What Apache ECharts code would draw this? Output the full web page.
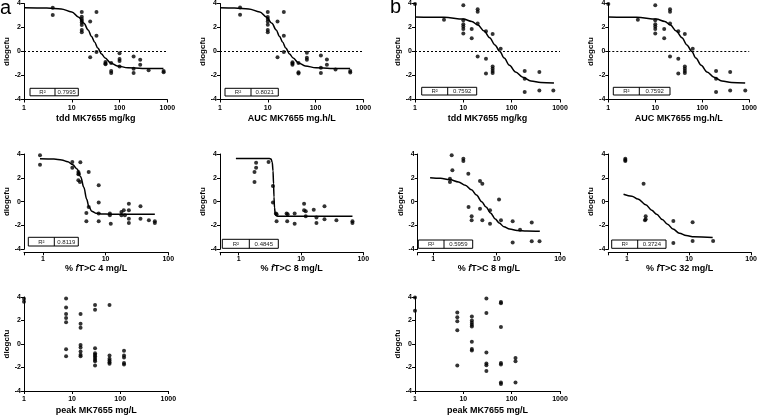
<!DOCTYPE html>
<html><head><meta charset="utf-8">
<script src="https://cdn.jsdelivr.net/npm/echarts@6/dist/echarts.min.js"></script>
<style>html,body{margin:0;padding:0;background:#fff}#c{width:760px;height:416px}</style>
</head><body><div id="c"></div>
<script>
// ---- tick labels / texts ----
const yTicks = [-4, -2, 0, 2, 4];
const xTicksDose = [1, 10, 100, 1000];
const xTicksPct = [1, 10, 100];
const yName = 'dlogcfu';
const xNames = [
  'tdd MK7655 mg/kg', 'AUC MK7655 mg.h/L', 'tdd MK7655 mg/kg', 'AUC MK7655 mg.h/L',
  '% {i|f}T>C 4 mg/L', '% {i|f}T>C 8 mg/L', '% {i|f}T>C 8 mg/L', '% {i|f}T>C 32 mg/L',
  'peak MK7655 mg/L', 'peak MK7655 mg/L'
];
const rSquared = ['0.7995', '0.8021', '0.7592', '0.7592', '0.8119', '0.4845', '0.5959', '0.3724'];
const panelLetters = ['a', 'b'];

// ---- data (x, dlogcfu) ----
const aTddPts = [[4,3.65],[4,3.05],[16.2,3.3],[16.2,2.9],[16.2,2.7],[16.2,2.56],[16.2,2.42],[16.2,2.2],[16.2,1.79],[16.2,1.6],
  [24.3,2.5],[24.3,-0.47],[32.9,3.3],[32.9,1.32],[32.9,-0.05],[50.8,-0.88],[50.8,-1.0],[50.8,-1.07],
  [66.9,-0.96],[66.9,-1.62],[66.9,-1.79],[100,-0.14],[100,-0.63],[100,-0.8],[100,-1.24],
  [197,-0.41],[197,-1.43],[197,-1.79],[271,-0.69],[271,-1.1],[406,-1.57],[838,-1.62],[838,-1.73]];
const aTddFit = [[1,3.65],[3,3.63],[6,3.55],[10,3.3],[14,2.85],[18,2.35],[22,1.8],[26,1.25],[30,0.8],[35,0.3],
  [42,-0.2],[50,-0.55],[65,-0.95],[90,-1.2],[150,-1.36],[300,-1.41],[830,-1.42]];

const aAucPts = [[2.63,3.67],[2.63,3.06],[10,3.3],[10,2.88],[10,2.7],[10,2.5],[10,2.22],[10,1.79],[10,1.6],
  [16,2.5],[16,-0.47],[21.7,3.3],[21.7,1.32],[21.7,-0.05],[32.9,-0.9],[32.9,-1.0],[32.9,-1.1],
  [44,-0.96],[44,-1.72],[44,-1.84],[65.9,-0.11],[65.9,-0.52],[65.9,-0.69],
  [129.5,-0.33],[129.5,-1.35],[129.5,-1.8],[173,-0.66],[173,-1.1],[262,-1.51],[533,-1.63],[533,-1.76]];
const aAucFit = [[1,3.65],[2,3.63],[4,3.55],[6.8,3.3],[9.5,2.85],[12.2,2.35],[15,1.8],[17.7,1.25],[20.4,0.8],[23.8,0.3],
  [28.6,-0.2],[34,-0.55],[44,-0.95],[61,-1.2],[102,-1.36],[204,-1.41],[530,-1.42]];

const bTddPts = [[1,3.95],[3.98,2.64],[10,3.85],[10,2.6],[10,2.28],[10,2.09],[10,1.87],[10,1.51],[14.9,1.87],[14.9,1.1],
  [19.8,3.52],[19.8,3.32],[19.8,2.33],[19.8,-0.41],[29.4,1.68],[29.4,-0.6],[29.4,-1.84],
  [40.4,1.46],[40.4,-1.24],[40.4,-1.43],[40.4,-1.62],[40.4,-1.79],[59.2,0.22],
  [186,-1.62],[186,-2.28],[186,-3.38],[374,-1.7],[374,-3.24],[728,-3.24]];
const bTddFit = [[1,2.88],[4,2.85],[10,2.7],[15,2.5],[20,2.2],[27,1.7],[35,1.15],[45,0.55],[57,0.0],[70,-0.55],
  [90,-1.15],[120,-1.7],[170,-2.15],[250,-2.45],[400,-2.58],[750,-2.63]];

const bAucPts = [[1,3.95],[4.26,2.64],[10,3.85],[10,2.6],[10,2.28],[10,2.09],[10,1.87],[10,1.51],[15.5,1.87],[15.5,1.1],
  [20.6,3.52],[20.6,3.32],[20.6,2.33],[20.6,-0.41],[30.9,1.68],[30.9,-0.6],[30.9,-1.84],
  [42.6,1.46],[42.6,-1.24],[42.6,-1.43],[42.6,-1.62],[42.6,-1.79],[62.7,0.22],
  [197,-1.62],[197,-2.28],[197,-3.38],[393,-1.7],[393,-3.24],[824,-3.24]];
const bAucFit = [[1,2.88],[4,2.85],[10.5,2.7],[16,2.5],[21,2.2],[28,1.7],[37,1.15],[47,0.55],[60,0.0],[73,-0.55],
  [95,-1.15],[126,-1.7],[178,-2.15],[262,-2.45],[420,-2.58],[820,-2.63]];

const aT4Pts = [[0.9,3.89],[0.9,3.1],[2.95,3.33],[2.95,2.85],[3.96,3.3],[3.68,2.49],[3.75,2.35],[3.68,2.29],
  [3.68,1.79],[3.9,1.65],[5.38,2.49],[5.38,-0.45],[4.94,-0.95],[4.94,-1.65],
  [7.77,1.37],[7.77,-0.08],[7.77,-1.0],[7.77,-1.65],[11.7,-1.0],[11.7,-1.15],[12.1,-1.85],
  [17.9,-0.87],[17.9,-1.15],[19.5,-0.73],[20.3,-1.15],[23.5,-0.17],[23.5,-0.73],[23.5,-1.43],[23.5,-1.79],
  [36,-0.39],[36,-1.43],[49,-1.57],[61,-1.65],[61,-1.79]];
const aT4Fit = [[0.9,3.6],[1.5,3.58],[2,3.5],[2.5,3.35],[3,3.1],[3.5,2.75],[4,2.1],[4.5,1.2],[5,0.2],[5.4,-0.4],
  [6,-0.8],[7,-0.97],[8.5,-1.03],[12,-1.05],[25,-1.05],[61,-1.05]];

const aT8Pts = [[1.79,1.65],[1.79,2.49],[1.9,2.85],[1.9,3.27],[3.01,3.33],[3.54,1.31],[3.54,-0.08],
  [3.95,-1.0],[4.05,-1.06],[4.05,-1.65],[5.87,-1.0],[6.1,-1.06],[6.0,-1.65],[7.9,-1.0],[7.9,-1.85],
  [11.2,-0.17],[11.2,-0.73],[11.9,-0.81],[11.9,-1.23],[16,-0.67],[17.7,-1.34],[17.7,-1.79],
  [23.8,-0.39],[23.8,-1.48],[37,-1.57],[67,-1.65],[67,-1.79]];
const aT8Fit = [[0.9,3.62],[3.1,3.62],[3.3,3.58],[3.45,3.3],[3.55,2.6],[3.62,1.5],[3.68,0.4],[3.75,-0.5],
  [3.85,-1.0],[4.0,-1.18],[4.3,-1.22],[67,-1.23]];

const bT8Pts = [[1.83,1.65],[1.83,1.93],[1.95,3.89],[2.0,2.63],[2.98,3.61],[2.98,3.41],[3.57,2.35],[3.6,-0.45],
  [4.03,-1.23],[4.03,-1.57],[5.46,1.73],[5.94,1.51],[5.46,-0.59],[5.94,-1.57],[7.86,-0.73],[7.86,-1.85],
  [10.9,0.17],[11.7,-1.57],[17.9,-1.65],[17.9,-3.42],[23.4,-2.35],[35.8,-1.74],[35.8,-3.33],[47.5,-3.33]];
const bT8Fit = [[0.89,2.01],[1.3,1.96],[1.8,1.86],[2.5,1.66],[3.2,1.38],[4.0,1.0],[4.8,0.55],[5.8,0.0],[6.8,-0.45],
  [8,-0.95],[9.5,-1.45],[11,-1.8],[13,-2.1],[16,-2.3],[21,-2.42],[30,-2.47],[48,-2.49]];

const bT32Pts = [[0.94,3.61],[0.94,3.41],[0.94,3.5],[1.85,1.51],[1.95,-1.57],[2.0,-1.48],[2.0,-1.23],
  [5.58,-1.62],[5.58,-3.47],[11.4,-1.73],[11.4,-3.3],[24.4,-3.3]];
const bT32Fit = [[0.88,0.62],[1.2,0.45],[1.5,0.22],[2,-0.25],[2.5,-0.72],[3,-1.05],[3.7,-1.5],[4.5,-1.9],
  [5.5,-2.3],[7,-2.65],[9,-2.85],[12,-2.95],[24,-3.0]];

const aPeakPts = [[1,3.85],[1,3.6],[7.5,3.88],[7.5,3.1],[7.5,2.55],[7.5,2.22],[7.5,1.86],[7.5,-0.44],[7.5,-1.05],
  [15,2.55],[15,1.72],[15,1.39],[15,-0.08],[15,-0.3],[15,-0.64],[15,-0.91],[15,-1.05],
  [30,3.32],[30,2.91],[30,-0.36],[30,-0.78],[30,-0.91],[30,-1.05],[30,-1.19],[30,-1.33],[30,-1.47],[30,-1.83],
  [60,3.32],[60,-0.97],[60,-1.25],[60,-1.41],[60,-1.55],[60,-1.69],
  [120,-0.58],[120,-0.97],[120,-1.14],[120,-1.61],[120,-1.75]];
const bPeakPts = [[1,3.95],[1,2.83],[7.5,2.69],[7.5,2.27],[7.5,1.94],[7.5,1.16],[7.5,-1.83],
  [15,2.35],[15,1.99],[15,1.8],[15,1.63],[15,1.5],[15,0.19],[15,-0.42],[15,-0.55],
  [30,3.88],[30,2.63],[30,-0.72],[30,-1.66],[30,-1.8],[30,-2.3],
  [60,3.57],[60,3.46],[60,1.44],[60,-1.61],[60,-1.75],[60,-3.27],[60,-3.41],
  [120,-1.19],[120,-1.47],[120,-3.27]];

// ---- layout ----
const FONT = '"Liberation Sans", Arial, sans-serif';
const panels = [
  {pts:aTddPts, fit:aTddFit, left:24,    top:2.5, w:143.3, h:97,   min:1,    max:1000, ticks:xTicksDose, off:0, lm:5, ng:15, zero:true,  box:[30,88.3,48.3,7.5,55]},
  {pts:aAucPts, fit:aAucFit, left:220,   top:2.5, w:143.3, h:97,   min:1,    max:1000, ticks:xTicksDose, off:0, lm:5, ng:15, zero:true,  box:[225,88.3,53.3,7.7,251]},
  {pts:bTddPts, fit:bTddFit, left:415,   top:2.5, w:145,   h:97,   min:1,    max:1000, ticks:xTicksDose, off:0, lm:5, ng:15, zero:true,  box:[421.7,87.3,55,7.7,447.7]},
  {pts:bAucPts, fit:bAucFit, left:608.3, top:2.5, w:143.4, h:97,   min:1,    max:1000, ticks:xTicksDose, off:0, lm:5, ng:15, zero:true,  box:[613.3,87.3,56.7,7.7,639.3]},
  {pts:aT4Pts,  fit:aT4Fit,  left:24,    top:154, w:144.3, h:95.3, min:0.5,  max:100,  ticks:xTicksPct,  off:3, lm:3, ng:12, zero:false, box:[28.3,237.3,50,8.7,54.3]},
  {pts:aT8Pts,  fit:aT8Fit,  left:220,   top:154, w:143.3, h:95.3, min:0.5,  max:100,  ticks:xTicksPct,  off:3, lm:3, ng:12, zero:false, box:[222.3,239.3,56,9,249.3]},
  {pts:bT8Pts,  fit:bT8Fit,  left:417.7, top:154, w:142.3, h:95.3, min:0.567,max:100,  ticks:xTicksPct,  off:3, lm:3, ng:12, zero:false, box:[418.3,240,54.4,8.3,444]},
  {pts:bT32Pts, fit:bT32Fit, left:608.3, top:154, w:143.4, h:95.3, min:0.5,  max:100,  ticks:xTicksPct,  off:3, lm:3, ng:12, zero:false, box:[611.7,240,54.3,8.3,637.7]},
  {pts:aPeakPts, fit:null,   left:24,    top:297, w:144.3, h:96.3, min:1,    max:1000, ticks:xTicksDose, off:0, lm:5, ng:15, zero:false, box:null},
  {pts:bPeakPts, fit:null,   left:415,   top:297, w:145,   h:96.3, min:1,    max:1000, ticks:xTicksDose, off:0, lm:5, ng:15, zero:false, box:null}
];

const grid = [], xAxis = [], yAxis = [], series = [], graphic = [];
panels.forEach((p, i) => {
  grid.push({left:p.left, top:p.top, width:p.w, height:p.h, containLabel:false});
  const tickList = p.ticks;
  xAxis.push({
    type:'log', logBase:10, gridIndex:i, min:p.min, max:p.max, offset:p.off,
    axisLine:{show:true, onZero:false, lineStyle:{color:'#000', width:1}},
    axisTick:{show:true, length:3, lineStyle:{color:'#000', width:1}},
    splitLine:{show:false}, minorTick:{show:false},
    axisLabel:{fontSize:7, fontWeight:'bold', margin:p.lm, color:'#000', fontFamily:FONT,
      formatter:(v) => { const r = Math.round(v); return (Math.abs(v - r) < 1e-6 && tickList.indexOf(r) >= 0) ? String(r) : ''; }},
    name:xNames[i], nameLocation:'middle', nameGap:p.ng,
    nameTextStyle:{fontSize:9, fontWeight:'bold', color:'#000', fontFamily:FONT,
      rich:{i:{fontStyle:'italic', fontWeight:'bold', fontSize:9, color:'#000', fontFamily:FONT}}}
  });
  yAxis.push({
    type:'value', gridIndex:i, min:-4, max:4, interval:2,
    axisLine:{show:true, onZero:false, lineStyle:{color:'#000', width:1}},
    axisTick:{show:true, length:3, lineStyle:{color:'#000', width:1}},
    splitLine:{show:false},
    axisLabel:{fontSize:7, fontWeight:'bold', margin:3, color:'#000', fontFamily:FONT,
      formatter:(v) => yTicks.indexOf(v) >= 0 ? String(v) : ''},
    name:yName, nameLocation:'middle', nameGap:13, nameRotate:90,
    nameTextStyle:{fontSize:8, fontWeight:'bold', color:'#000', fontFamily:FONT}
  });
  const sc = {type:'scatter', xAxisIndex:i, yAxisIndex:i, data:p.pts, symbol:'circle', symbolSize:4,
    itemStyle:{color:'#000'}, z:3, silent:true};
  if (p.zero) {
    sc.markLine = {silent:true, symbol:'none', label:{show:false},
      lineStyle:{type:[2,2], color:'#000', width:1}, data:[{yAxis:0}]};
  }
  series.push(sc);
  if (p.fit) {
    series.push({type:'line', xAxisIndex:i, yAxisIndex:i, data:p.fit, showSymbol:false, symbol:'none',
      smooth:0.35, smoothMonotone:'x', lineStyle:{color:'#000', width:1.5}, z:4, silent:true});
  }
  if (p.box) {
    const [bx, by, bw, bh, dv] = p.box;
    graphic.push({type:'rect', z:100, shape:{x:bx, y:by, width:bw, height:bh}, style:{fill:'#fff', stroke:'#000', lineWidth:1}});
    graphic.push({type:'line', z:101, shape:{x1:dv, y1:by, x2:dv, y2:by + bh}, style:{stroke:'#000', lineWidth:1}});
    graphic.push({type:'text', z:102, x:(bx + dv) / 2, y:by + bh / 2 + 0.5,
      style:{text:'R²', fontSize:6, fill:'#222', fontFamily:FONT, align:'center', verticalAlign:'middle'}});
    graphic.push({type:'text', z:102, x:(dv + bx + bw) / 2, y:by + bh / 2 + 0.5,
      style:{text:rSquared[i], fontSize:6, fill:'#222', fontFamily:FONT, align:'center', verticalAlign:'middle'}});
  }
});
graphic.push({type:'text', z:102, x:0, y:-2, style:{text:panelLetters[0], fontSize:20, fill:'#000', fontFamily:FONT, verticalAlign:'top'}});
graphic.push({type:'text', z:102, x:390, y:-3, style:{text:panelLetters[1], fontSize:20, fill:'#000', fontFamily:FONT, verticalAlign:'top'}});

const chart = echarts.init(document.getElementById('c'), null, {renderer:'canvas'});
chart.setOption({animation:false, backgroundColor:'#fff', grid, xAxis, yAxis, series, graphic});
</script>
</body></html>
